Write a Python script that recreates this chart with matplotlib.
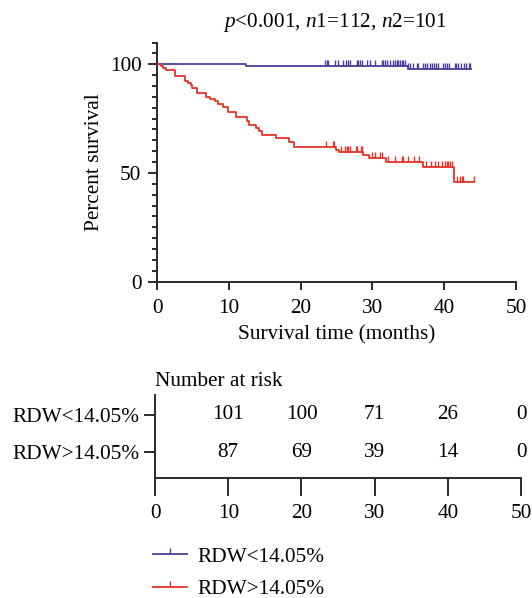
import numpy as np
import matplotlib
matplotlib.use("Agg")
import matplotlib.pyplot as plt
from matplotlib.path import Path
from matplotlib.lines import Line2D
from matplotlib.ticker import MultipleLocator, FixedLocator

plt.rcParams['font.family'] = ['Liberation Serif', 'DejaVu Serif']
plt.rcParams['mathtext.fontset'] = 'custom'
plt.rcParams['mathtext.it'] = 'Liberation Serif:italic'
plt.rcParams['mathtext.rm'] = 'Liberation Serif'

# ---------------- data ----------------
group_labels = ["RDW<14.05%", "RDW>14.05%"]

low_times = [0, 12.3, 34.9]
low_surv = [100, 99.0, 98.0]
low_end = 43.8
low_censor = [23.4, 23.6, 23.8, 24.8, 25.2, 25.9, 26.3, 26.6, 26.9, 27.8, 28.0,
              28.3, 28.5, 29.2, 29.7, 30.4, 31.3, 31.5, 31.8, 32.0, 32.5, 32.9,
              33.1, 33.4, 33.6, 33.9, 34.1, 34.3, 34.5,
              35.0, 35.2, 35.6, 36.2, 36.4, 37.1, 37.3, 37.6, 38.0, 38.3, 38.6,
              38.9, 39.2, 39.9, 40.1, 40.4, 40.7, 41.5, 41.7, 41.9, 42.4, 42.8,
              43.0, 43.4, 43.6]

high_times = [0, 0.5, 0.8, 1.2, 2.5, 3.9, 4.3, 4.7, 4.9, 5.6, 6.8, 7.3, 8.0, 8.5,
              9.2, 9.8, 11.0, 12.5, 12.8, 13.8, 14.2, 14.6, 16.6, 18.4, 19.0,
              24.9, 25.3, 28.7, 29.5, 31.9, 37.0, 41.4]
high_surv = [100, 99.1, 98.2, 97.3, 94.6, 92.4, 91.5, 90.5, 89.2, 87.0, 84.8, 83.9,
             83.0, 81.6, 80.5, 78.2, 75.8, 73.9, 72.0, 70.8, 69.3, 67.3, 66.2, 64.4,
             61.8, 60.8, 59.8, 58.5, 57.0, 55.2, 52.7, 46.0]
high_end = 44.1
high_censor = [23.5, 24.5, 24.7, 25.6, 26.2, 26.4, 26.6, 26.9, 27.7, 27.9, 28.4,
               28.6, 30.0, 30.4, 31.1, 31.3, 32.2, 33.1, 34.1, 34.3, 34.9, 35.8,
               36.5, 37.5, 38.1, 38.7, 39.2, 39.7, 40.1, 40.4, 40.6, 40.8, 41.1,
               41.8, 42.2, 42.5, 42.7, 44.1]

risk_times = [10, 20, 30, 40, 50]
risk_low = [101, 100, 71, 26, 0]
risk_high = [87, 69, 39, 14, 0]

x_ticks = [0, 10, 20, 30, 40, 50]
y_major = [0, 50, 100]

# ---------------- style ----------------
BLUE = "#4a3f9c"
RED = "#e8332a"
AXC = "#2a2a2a"
FS = 15.3

tick_up = Path([(0, 0), (0, 1)], [Path.MOVETO, Path.LINETO])

fig = plt.figure(figsize=(5.32, 5.98), dpi=100)

ax = fig.add_axes([0.2957, 0.5289, 0.6739, 0.400])

def draw_km(times, surv, end, censor, color):
    t = np.array(times + [end])
    s = np.array(surv + [surv[-1]])
    ax.step(t, s, where='post', color=color, lw=1.3, zorder=3)
    c = np.array(censor)
    idx = np.searchsorted(np.array(times), c, side='right') - 1
    cy = np.array(surv)[idx]
    ax.plot(c, cy, linestyle='none', marker=tick_up, markersize=8,
            markeredgewidth=1.0, color=color, zorder=3)

draw_km(low_times, low_surv, low_end, low_censor, BLUE)
draw_km(high_times, high_surv, high_end, high_censor, RED)

ax.set_xlim(0, 50)
ax.set_ylim(0, 110)
for sp in ['top', 'right']:
    ax.spines[sp].set_visible(False)
for sp in ['left', 'bottom']:
    ax.spines[sp].set_color(AXC)
    ax.spines[sp].set_linewidth(1.4)
ax.xaxis.set_major_locator(FixedLocator(x_ticks))
ax.yaxis.set_major_locator(FixedLocator(y_major))
ax.yaxis.set_minor_locator(MultipleLocator(5))
ax.tick_params(axis='y', which='major', length=6.5, width=1.4, color=AXC,
               labelsize=FS, pad=5)
ax.tick_params(axis='y', which='minor', length=3.3, width=1.4, color=AXC)
ax.tick_params(axis='x', which='major', length=5.8, width=1.4, color=AXC,
               labelsize=FS, pad=7)
ax.set_xlabel("Survival time (months)", fontsize=FS, labelpad=5)
ax.set_ylabel("Percent survival", fontsize=FS, labelpad=4)

fig.text(335 / 532, 1 - 22 / 598, r"$p$<0.001, $n$1=112, $n$2=101",
         ha='center', va='center', fontsize=FS)

# ---------------- risk table ----------------
rax = fig.add_axes([0.2914, 0.2007, 0.688, 0.1388])
rax.set_xlim(0, 50)
rax.set_ylim(-0.70, 1.54)
for sp in ['top', 'right']:
    rax.spines[sp].set_visible(False)
for sp in ['left', 'bottom']:
    rax.spines[sp].set_color(AXC)
    rax.spines[sp].set_linewidth(1.4)
rax.xaxis.set_major_locator(FixedLocator(x_ticks))
rax.set_yticks([1, 0])
rax.set_yticklabels(group_labels)
rax.tick_params(axis='y', length=8, width=1.4, color=AXC, labelsize=FS, pad=3)
rax.tick_params(axis='x', length=13, width=1.4, color=AXC, labelsize=FS, pad=6)

for t, a, b in zip(risk_times, risk_low, risk_high):
    rax.text(t, 1, str(a), ha='center', va='center', fontsize=FS)
    rax.text(t, 0, str(b), ha='center', va='center', fontsize=FS)

fig.text(155 / 532, 1 - 381 / 598, "Number at risk", ha='left', va='center',
         fontsize=FS)

# ---------------- legend ----------------
handles = [Line2D([0], [0], color=BLUE, lw=1.3, marker=tick_up, markersize=8,
                  markeredgewidth=1.0),
           Line2D([0], [0], color=RED, lw=1.3, marker=tick_up, markersize=8,
                  markeredgewidth=1.0)]
fig.legend(handles, group_labels, loc='upper left',
           bbox_to_anchor=(153 / 532, 1 - 547 / 598), frameon=False,
           fontsize=FS, handlelength=1.6, handletextpad=0.5, borderpad=0,
           borderaxespad=0, labelspacing=0.6, numpoints=1)

fig.savefig("out.png", dpi=100)
